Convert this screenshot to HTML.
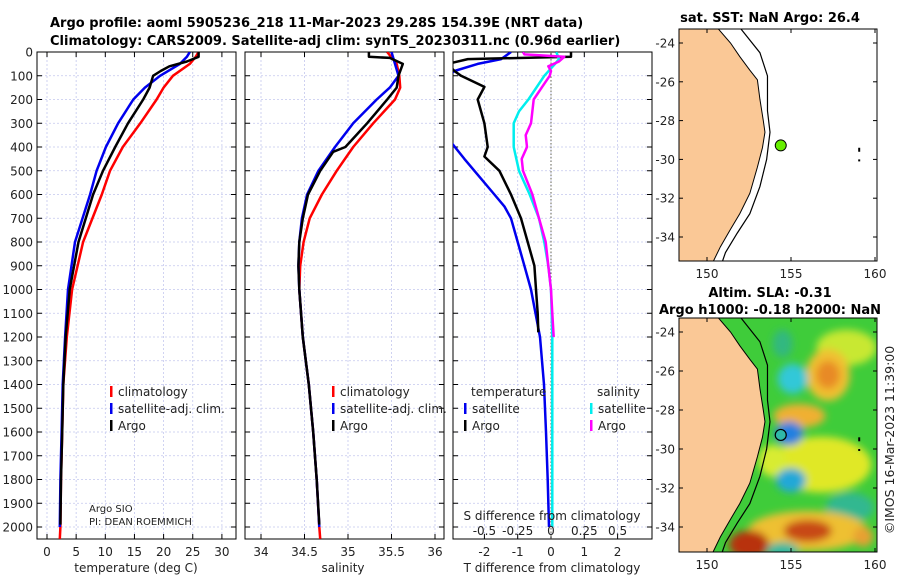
<!DOCTYPE html>
<html><head><meta charset="utf-8"><style>
body{margin:0;background:#fff;}
svg{display:block;font-family:"DejaVu Sans","Liberation Sans",sans-serif;}
.t{font-size:12px;fill:#222;}
.b{font-weight:bold;font-size:13px;fill:#000;}
</style></head><body>
<svg id="s" width="900" height="580" viewBox="0 0 900 580" xmlns="http://www.w3.org/2000/svg">
<defs><filter id="bl" x="-50%" y="-50%" width="200%" height="200%"><feGaussianBlur stdDeviation="4"/></filter>
<clipPath id="c1"><rect x="37" y="52" width="199" height="487"/></clipPath>
<clipPath id="c2"><rect x="245" y="52" width="199" height="487"/></clipPath>
<clipPath id="c3"><rect x="453" y="52" width="199" height="487"/></clipPath>
<clipPath id="m1"><rect x="679" y="29" width="198" height="232"/></clipPath>
<clipPath id="m2"><rect x="679" y="318" width="198" height="234"/></clipPath>
</defs>
<text class="b" x="50" y="27">Argo profile: aoml 5905236_218 11-Mar-2023 29.28S 154.39E (NRT data)</text>
<text class="b" x="50" y="45">Climatology: CARS2009. Satellite-adj clim: synTS_20230311.nc (0.96d earlier)</text>
<g id="g"></g>
</svg>
<script>
// ---- data ----
const tDepth=[0,20,50,100,150,200,300,400,500,600,800,1000,1200,1400,1600,1800,2000];
const tClim=[26,25.5,24.5,21.6,20,18.8,16,13,10.8,9.4,6.2,4.3,3.4,2.8,2.6,2.4,2.3];
const tSat=[24.5,24,22.8,19.4,16.8,14.8,12.2,10.1,8.5,7.4,4.8,3.6,3.1,2.7,2.5,2.3,2.2];
const argoDepth=[0,20,40,60,80,100,150,200,300,400,500,600,800,1000,1200,1400,1600,1800,1990];
const tArgo=[26,26,24,21,19.5,18.2,17.6,16.5,13.9,11.7,9.6,7.9,5.4,3.9,3.2,2.8,2.6,2.4,2.3];
const sDepth=[0,50,100,150,200,300,400,500,600,700,800,900,1000,1200,1400,1600,1800,2000];
const sClim=[35.45,35.56,35.59,35.6,35.54,35.29,35.06,34.87,34.7,34.56,34.49,34.45,34.44,34.48,34.55,34.6,34.64,34.67];
const sSat=[35.5,35.54,35.58,35.48,35.33,35.06,34.85,34.66,34.53,34.47,34.44,34.43,34.44,34.48,34.55,34.6,34.64,34.67];
const sArgoDepth=[0,20,25,50,100,150,200,300,400,420,500,600,700,800,900,1000,1200,1400,1600,1800,1990];
const sArgo=[35.24,35.24,35.48,35.63,35.58,35.56,35.45,35.22,34.97,34.83,34.68,34.54,34.48,34.44,34.43,34.44,34.48,34.55,34.6,34.64,34.67];
const dtArgoDepth=[0,20,30,50,80,100,147,200,300,400,440,500,600,700,800,900,1000,1100,1180];
const dtArgo=[0.6,0.6,-2.5,-3.1,-2.9,-2.7,-2.0,-2.2,-2.0,-1.9,-2.0,-1.55,-1.2,-0.9,-0.7,-0.5,-0.45,-0.4,-0.38];
const dtSatDepth=[0,30,50,80,100,380,450,500,600,650,700,800,900,1000,1200,1400,1600,1800,2000];
const dtSat=[-1.2,-1.5,-2.2,-2.9,-3.1,-3.0,-2.6,-2.3,-1.7,-1.4,-1.2,-1.0,-0.8,-0.6,-0.33,-0.21,-0.15,-0.1,-0.06];
const dsSatDepth=[0,30,50,100,200,250,300,400,500,600,700,800,900,1000,1200,1500,2000];
const dsSat=[0.04,0.06,0.03,-0.05,-0.17,-0.24,-0.28,-0.28,-0.24,-0.16,-0.09,-0.05,-0.02,0,0.01,0.01,0.01];
const dsArgoDepth=[0,10,20,40,60,80,100,150,200,300,350,400,450,500,600,700,800,900,1000,1100,1200];
const dsArgo=[-0.21,-0.2,0.1,0.06,-0.02,0,-0.01,-0.07,-0.13,-0.15,-0.19,-0.18,-0.22,-0.21,-0.14,-0.09,-0.04,-0.02,0,0.01,0.02];
const depthTicks=[0,100,200,300,400,500,600,700,800,900,1000,1100,1200,1300,1400,1500,1600,1700,1800,1900,2000];
const tTicks=[0,5,10,15,20,25,30];
const sTicks=[34,34.5,35,35.5,36];
const dtTicks=[-2,-1,0,1,2];
const dsTicks=[-0.5,-0.25,0,0.25,0.5];
const dsTickLabels=["-0.5","-0.25","0","0.25","0.5"];
const latTicks=[-24,-26,-28,-30,-32,-34];
const lonTicks=[150,155,160];
const floatPos=[154.39,-29.28];
// ---- axes ----
const Y=d=>52+d*0.2375;
const XT=t=>47+t*5.83;
const XS=s=>261+(s-34)*87;
const XD=t=>551+t*33.3;
const XDS=s=>551+s*133.2;
const MX=lon=>707+(lon-150)*16.8;
const MY1=lat=>43+(-24-lat)*19.4;
const MY2=lat=>332+(-24-lat)*19.5;
const NS="http://www.w3.org/2000/svg";
const G=document.getElementById('g');
function mk(tag,at,par){const e=document.createElementNS(NS,tag);for(const k in at)e.setAttribute(k,at[k]);(par||G).appendChild(e);return e;}
function txt(x,y,s,cls,anchor,par){const e=mk('text',{x:x,y:y,class:cls||'t','text-anchor':anchor||'start'},par);e.textContent=s;return e;}
function panel(x0,name,clip,xticks,xf,labels,lbly){
  const g=mk('g',{});
  
  
  const gl=mk('g',{stroke:'#c4c8ee','stroke-width':'0.8','stroke-dasharray':'2,2'},g);
  depthTicks.forEach(d=>{if(d>0)mk('line',{x1:x0,x2:x0+199,y1:Y(d),y2:Y(d)},gl);});
  xticks.forEach(v=>mk('line',{x1:xf(v),x2:xf(v),y1:52,y2:539},gl));
  mk('rect',{x:x0,y:52,width:199,height:487,fill:'none',stroke:'#000','stroke-width':'1'},g);
  depthTicks.forEach(d=>{mk('line',{x1:x0,x2:x0+5,y1:Y(d),y2:Y(d),stroke:'#000'},g);mk('line',{x1:x0+194,x2:x0+199,y1:Y(d),y2:Y(d),stroke:'#000'},g);});
  xticks.forEach((v,i)=>{mk('line',{x1:xf(v),x2:xf(v),y1:534,y2:539,stroke:'#000'},g);mk('line',{x1:xf(v),x2:xf(v),y1:52,y2:57,stroke:'#000'},g);if(labels)txt(xf(v),lbly,labels[i],'t','middle',g);});
  return g;
}
function line(depths,vals,xf,color,clip,name,w){
  const p=depths.map((d,i)=>xf(vals[i]).toFixed(1)+','+Y(d).toFixed(1)).join(' ');
  const e=mk('polyline',{points:p,fill:'none',stroke:color,'stroke-width':w||2.5,'stroke-linejoin':'round','clip-path':'url(#'+clip+')'});
  
  
}
depthTicks.forEach(d=>{txt(33,Y(d)+4.5,String(d),'t','end');});
panel(37,'temperature-panel','c1',tTicks,XT,tTicks.map(String),556);
txt(136,572,'temperature (deg C)','t','middle');
line(tDepth.concat([2050]),tClim.concat([2.2]),XT,'#f00','c1','temperature-climatology-line');
line(tDepth,tSat,XT,'#0000ee','c1','temperature-satellite-line');
line(argoDepth,tArgo,XT,'#000','c1','temperature-argo-line');
panel(245,'salinity-panel','c2',sTicks,XS,["34","34.5","35","35.5","36"],556);
txt(343,572,'salinity','t','middle');
line(sDepth.concat([2050]),sClim.concat([34.68]),XS,'#f00','c2','salinity-climatology-line');
line(sDepth,sSat,XS,'#0000ee','c2','salinity-satellite-line');
line(sArgoDepth,sArgo,XS,'#000','c2','salinity-argo-line');
panel(453,'difference-panel','c3',dtTicks,XD,dtTicks.map(String),556);
mk('line',{x1:XD(0),x2:XD(0),y1:52,y2:539,stroke:'#665','stroke-width':'1','stroke-dasharray':'1.5,2'});
txt(552,572,'T difference from climatology','t','middle');
line(dtSatDepth,dtSat,XD,'#0000ee','c3','t-diff-satellite-line');
line(dtArgoDepth,dtArgo,XD,'#000','c3','t-diff-argo-line');
line(dsSatDepth,dsSat,XDS,'#00eeee','c3','s-diff-satellite-line');
line(dsArgoDepth,dsArgo,XDS,'#ff00ff','c3','s-diff-argo-line');
txt(552,520,'S difference from climatology','t','middle');
dsTicks.forEach((v,i)=>txt(XDS(v),535,dsTickLabels[i],'t','middle'));
function leg(x,y,c,s,name){const g=mk('g',{});mk('rect',{x:x,y:y-10,width:2.5,height:11,fill:c},g);txt(x+8,y,s,'t','start',g);}
leg(110,396,'#f00','climatology','legend-climatology');
leg(110,413,'#0000ee','satellite-adj. clim.','legend-satellite-adj');
leg(110,430,'#000','Argo','legend-argo');
leg(332,396,'#f00','climatology','legend2-climatology');
leg(332,413,'#0000ee','satellite-adj. clim.','legend2-satellite-adj');
leg(332,430,'#000','Argo','legend2-argo');
txt(471,396,'temperature');txt(597,396,'salinity');
leg(464,413,'#0000ee','satellite','legend-t-satellite');
leg(464,430,'#000','Argo','legend-t-argo');
leg(590,413,'#00eeee','satellite','legend-s-satellite');
leg(590,430,'#ff00ff','Argo','legend-s-argo');
const a1=txt(89,512,'Argo SIO');a1.setAttribute('style','font-size:10px');
const a2=txt(89,525,'PI: DEAN ROEMMICH');a2.setAttribute('style','font-size:10px');
// ---- maps ----
const coast=[[150.6,-23.2],[151.4,-24],[151.95,-24.7],[152.55,-25.4],[153.0,-25.9],[153.15,-26.9],[153.35,-28],[153.45,-28.6],[153.3,-29.4],[153.0,-30.4],[152.55,-31.75],[151.95,-32.8],[151.4,-33.6],[150.8,-34.5],[150.35,-35.3]];
const iso=[[151.95,-23.2],[153.15,-24.5],[153.6,-25.7],[153.6,-27.5],[153.75,-28.6],[153.55,-30],[153.15,-31.4],[152.55,-32.8],[151.8,-33.8],[151.1,-34.8],[150.9,-35.3]];
const blobs=[[156.8,-30.8,50,28,'#e0e828'],[153.9,-30.6,14,16,'#d8ec30'],[158.3,-24.8,30,18,'#c8e830'],[157.2,-26.2,22,26,'#f0c030'],[157.2,-26.2,12,14,'#e88a28'],[155.5,-28.3,26,12,'#f0b030'],[154.5,-24.6,10,14,'#30b880'],[155.1,-26.4,15,15,'#30c8d8'],[154.9,-29.2,14,12,'#2080e0'],[155,-31.6,15,12,'#20a8d8'],[158.5,-33,24,15,'#30b890'],[156,-34.2,60,20,'#eec030'],[156,-34.2,24,11,'#c84818'],[152.5,-34.9,20,14,'#b83010'],[154.5,-35.2,16,8,'#30b8a0'],[159.3,-34.5,10,10,'#e8a030']];
function map(MY,top,h,clip,name,colored){
  const g=mk('g',{});
  
  
  const cg=mk('g',{'clip-path':'url(#'+clip+')'},g);
  if(colored){
    mk('rect',{x:679,y:top,width:198,height:h,fill:'#3fcc3a'},cg);
    const fg=mk('g',{filter:'url(#bl)'},cg);
    blobs.forEach(b=>mk('ellipse',{cx:MX(b[0]),cy:MY(b[1]),rx:b[2],ry:b[3],fill:b[4]},fg));
  }
  const land=coast.map(p=>MX(p[0])+','+MY(p[1])).join(' ')+' 670,'+(top+h+5)+' 670,'+(top-5);
  mk('polygon',{points:land,fill:'#fac896',stroke:'#000','stroke-width':'1'},cg);
  mk('polyline',{points:iso.map(p=>MX(p[0])+','+MY(p[1])).join(' '),fill:'none',stroke:'#000','stroke-width':'1.2'},cg);
  mk('rect',{x:MX(159),y:MY(-29.4),width:2,height:4,fill:'#000'},cg);
  mk('rect',{x:MX(159),y:MY(-30),width:2,height:2,fill:'#000'},cg);
  mk('rect',{x:679,y:top,width:198,height:h,fill:'none',stroke:'#000'},g);
  latTicks.forEach(l=>{mk('line',{x1:679,x2:683,y1:MY(l),y2:MY(l),stroke:'#000'},g);mk('line',{x1:873,x2:877,y1:MY(l),y2:MY(l),stroke:'#000'},g);txt(675,MY(l)+4.5,String(l),'t','end',g);});
  lonTicks.forEach(l=>{mk('line',{x1:MX(l),x2:MX(l),y1:top+h-4,y2:top+h,stroke:'#000'},g);mk('line',{x1:MX(l),x2:MX(l),y1:top,y2:top+4,stroke:'#000'},g);txt(MX(l),top+h+17,String(l),'t','middle',g);});
  return g;
}
map(MY1,29,232,'m1','sst-map',false);
map(MY2,318,234,'m2','sla-map',true);
const d1=mk('circle',{cx:MX(floatPos[0]),cy:MY1(floatPos[1]),r:5.5,fill:'#66ee00',stroke:'#000','stroke-width':'1'});


const d2=mk('circle',{cx:MX(floatPos[0]),cy:MY2(floatPos[1]),r:5.5,fill:'#30b8a8',stroke:'#000','stroke-width':'1.2'});


txt(770,22,'sat. SST: NaN Argo: 26.4','b','middle');
txt(770,297,'Altim. SLA: -0.31','b','middle');
txt(770,314,'Argo h1000: -0.18 h2000: NaN','b','middle');
const r=txt(0,0,'©IMOS 16-Mar-2023 11:39:00','t','middle');r.setAttribute('transform','translate(894,440) rotate(-90)');r.setAttribute('style','font-size:12.5px');
</script>
</body></html>
